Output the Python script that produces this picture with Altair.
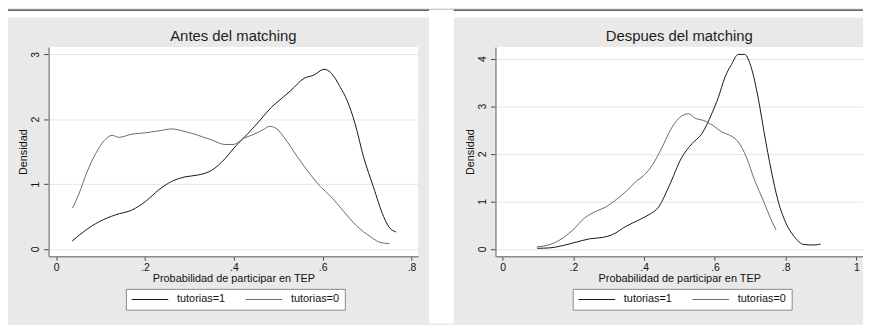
import altair as alt
import pandas as pd

FONT = "Liberation Sans"
SERIES = ["tutorias=1", "tutorias=0"]
COLORS = ["#161616", "#6a6a6a"]
TITLES = ["Antes del matching", "Despues del matching"]
X_TITLE = "Probabilidad de participar en TEP"
Y_TITLE = "Densidad"

# ---- Antes del matching ----
antes_t1_x = [0.036, 0.063, 0.097, 0.134, 0.171, 0.201, 0.231, 0.26, 0.29, 0.32, 0.35, 0.38, 0.402, 0.432,
              0.461, 0.484, 0.506, 0.528, 0.558, 0.580, 0.603, 0.618, 0.640, 0.655, 0.673, 0.692, 0.714,
              0.737, 0.748, 0.765]
antes_t1_y = [0.12, 0.27, 0.42, 0.525, 0.60, 0.73, 0.91, 1.04, 1.11, 1.14, 1.21, 1.39, 1.57, 1.78,
              2.0, 2.18, 2.31, 2.44, 2.63, 2.68, 2.77, 2.72, 2.49, 2.29, 1.93, 1.42, 0.96,
              0.5, 0.35, 0.26]
antes_t0_x = [0.037, 0.052, 0.068, 0.089, 0.108, 0.126, 0.141, 0.171, 0.201, 0.231, 0.26, 0.29, 0.32,
              0.35, 0.38, 0.398, 0.424, 0.446, 0.469, 0.48, 0.495, 0.513, 0.543, 0.573, 0.595, 0.618,
              0.647, 0.677, 0.707, 0.729, 0.750]
antes_t0_y = [0.63, 0.86, 1.16, 1.47, 1.67, 1.75, 1.72, 1.77, 1.79, 1.82, 1.85, 1.81, 1.75,
              1.68, 1.61, 1.61, 1.71, 1.77, 1.85, 1.89, 1.86, 1.72, 1.42, 1.14, 0.96, 0.81,
              0.58, 0.35, 0.19, 0.10, 0.08]

# ---- Despues del matching ----
desp_t1_x = [0.098, 0.134, 0.171, 0.208, 0.246, 0.283, 0.311, 0.348, 0.386, 0.414, 0.442, 0.470, 0.507,
             0.535, 0.563, 0.591, 0.610, 0.628, 0.647, 0.666, 0.684, 0.703, 0.722, 0.740, 0.759, 0.778,
             0.801, 0.824, 0.852, 0.880, 0.899]
desp_t1_y = [0.01, 0.02, 0.07, 0.14, 0.21, 0.24, 0.30, 0.47, 0.61, 0.72, 0.89, 1.31, 1.93,
             2.21, 2.42, 2.84, 3.19, 3.6, 3.88, 4.09, 4.09, 3.81, 3.19, 2.42, 1.66, 1.03,
             0.54, 0.26, 0.09, 0.08, 0.10]
desp_t0_x = [0.096, 0.134, 0.171, 0.199, 0.232, 0.264, 0.292, 0.320, 0.348, 0.376, 0.400, 0.423, 0.451,
             0.479, 0.507, 0.526, 0.544, 0.572, 0.596, 0.619, 0.642, 0.666, 0.689, 0.712, 0.740, 0.759,
             0.773]
desp_t0_y = [0.04, 0.09, 0.23, 0.40, 0.65, 0.79, 0.88, 1.03, 1.20, 1.41, 1.55, 1.76, 2.14,
             2.56, 2.80, 2.84, 2.75, 2.69, 2.59, 2.46, 2.39, 2.25, 1.93, 1.45, 0.96, 0.61,
             0.40]

x_ticks_antes = [0, 0.2, 0.4, 0.6, 0.8]
y_ticks_antes = [0, 1, 2, 3]
x_ticks_desp = [0, 0.2, 0.4, 0.6, 0.8, 1.0]
y_ticks_desp = [0, 1, 2, 3, 4]

LABEL_EXPR = ("datum.value == 0 ? '0' : (datum.value == 1 ? '1' : "
              "substring(format(datum.value, '.1f'), 1))")


def frame(x1, y1, x0, y0):
    rows = [{"x": a, "y": b, "serie": SERIES[0]} for a, b in zip(x1, y1)]
    rows += [{"x": a, "y": b, "serie": SERIES[1]} for a, b in zip(x0, y0)]
    return pd.DataFrame(rows)


H = 211


def panel(df, title, xdom, ydom, xt, yt, W, left_ext, right_ext, with_gap):
    one = alt.Data(values=[{"k": 0}])
    layers = []
    layers.append(alt.Chart(one).mark_rect(color="white").encode(
        x=alt.value(-left_ext), x2=alt.value(W + right_ext),
        y=alt.value(-38), y2=alt.value(-30)))
    layers.append(alt.Chart(one).mark_rect(color="#333333").encode(
        x=alt.value(-left_ext), x2=alt.value(W + right_ext),
        y=alt.value(-38), y2=alt.value(-36.6)))
    if with_gap:
        layers.append(alt.Chart(one).mark_rect(color="white").encode(
            x=alt.value(W + 11), x2=alt.value(W + right_ext),
            y=alt.value(-38), y2=alt.value(H + 68)))
    layers.append(alt.Chart(one).mark_text(
        font=FONT, fontSize=15, color="#1e1e1e", align="center", baseline="alphabetic").encode(
        x=alt.value(W / 2), y=alt.value(-6.5), text=alt.value(title)))
    lines = alt.Chart(df).mark_line(strokeWidth=1.0, interpolate="monotone").encode(
        x=alt.X("x:Q", scale=alt.Scale(domain=xdom, nice=False, zero=False),
                axis=alt.Axis(values=xt, labelExpr=LABEL_EXPR, title=X_TITLE, grid=False,
                              domainColor="#8a8a8a", domainWidth=1.5,
                              tickColor="#444444", tickSize=4,
                              labelFont=FONT, labelFontSize=10.5, labelColor="#111111",
                              labelPadding=2, labelFlush=False,
                              titleFont=FONT, titleFontSize=11, titleFontWeight="normal",
                              titleColor="#111111", titlePadding=0)),
        y=alt.Y("y:Q", scale=alt.Scale(domain=ydom, nice=False, zero=False),
                axis=alt.Axis(values=yt, format="d", title=Y_TITLE, grid=True,
                              gridColor="#e6e6e6", domainColor="#8a8a8a", domainWidth=1.5,
                              tickColor="#444444",
                              tickSize=5, labelAngle=270, labelAlign="center",
                              labelBaseline="bottom", labelPadding=3,
                              labelFont=FONT, labelFontSize=10.5, labelColor="#111111",
                              titleFont=FONT, titleFontSize=11, titleFontWeight="normal",
                              titleColor="#111111", titlePadding=2)),
        color=alt.Color("serie:N", scale=alt.Scale(domain=SERIES, range=COLORS),
                        legend=alt.Legend(title=None, orient="none", legendX=78, legendY=244,
                                          direction="horizontal",
                                          symbolType="M-1,0H7", symbolSize=85,
                                          symbolStrokeWidth=1.2, labelOffset=35.6,
                                          columnPadding=17, padding=5,
                                          labelFont=FONT, labelFontSize=11,
                                          labelColor="#111111", labelLimit=200,
                                          fillColor="white", strokeColor="#8a8a8a")),
    )
    layers.append(lines)
    return alt.layer(*layers).properties(width=W, height=H)


left = panel(frame(antes_t1_x, antes_t1_y, antes_t0_x, antes_t0_y), TITLES[0],
             [-0.017, 0.815], [-0.113, 3.112], x_ticks_antes, y_ticks_antes,
             373, 41, 36, True)
right = panel(frame(desp_t1_x, desp_t1_y, desp_t0_x, desp_t0_y), TITLES[1],
              [-0.0204, 1.0188], [-0.155, 4.244], x_ticks_desp, y_ticks_desp,
              371, 42, 0, False)

chart = alt.hconcat(left, right, spacing=0).resolve_legend(color="independent").properties(
    padding={"left": 0, "top": 0, "right": 0, "bottom": 0},
    background="#e9e9e9",
).configure_view(fill="white", strokeWidth=0)

chart.save("out.html", embed_options={"renderer": "svg", "actions": False})
